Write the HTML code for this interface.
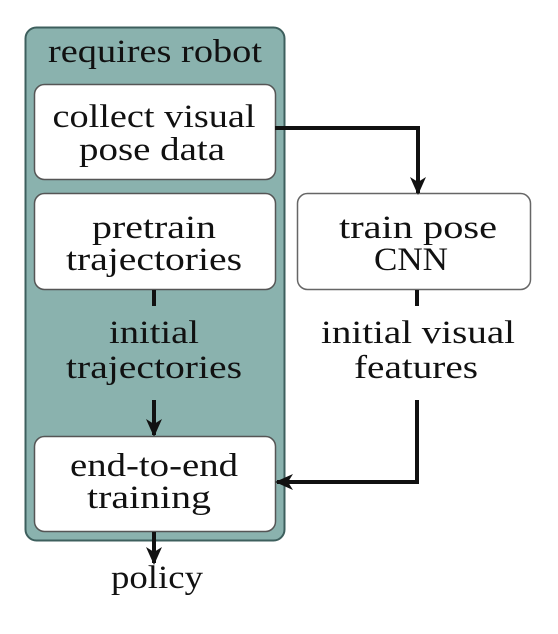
<!DOCTYPE html>
<html><head><meta charset="utf-8"><style>
html,body{margin:0;padding:0;background:#fff;}
svg{display:block;}
text{font-family:"Liberation Serif",serif;font-size:33px;fill:#111;text-anchor:middle;}
</style></head><body>
<svg width="558" height="634" viewBox="0 0 558 634" xmlns="http://www.w3.org/2000/svg">
<defs>
<marker id="ah" markerWidth="20" markerHeight="16" refX="16" refY="8" orient="auto" markerUnits="userSpaceOnUse">
<path d="M0,0 L18,8 L0,16 L5,8 Z" fill="#111"/>
</marker>
</defs>
<rect x="25.5" y="27.5" width="259" height="513" rx="11" fill="#8ab2ae" stroke="#3d5f5d" stroke-width="2"/>
<text x="155" y="62" textLength="214" lengthAdjust="spacingAndGlyphs">requires robot</text>

<rect x="34.5" y="84.5" width="241" height="95" rx="10" fill="#fff" stroke="#555" stroke-width="1.5"/>
<text x="154" y="127" textLength="203" lengthAdjust="spacingAndGlyphs">collect visual</text>
<text x="152" y="160" textLength="146" lengthAdjust="spacingAndGlyphs">pose data</text>

<rect x="34.5" y="193.5" width="241" height="96" rx="10" fill="#fff" stroke="#555" stroke-width="1.5"/>
<text x="154" y="238" textLength="124" lengthAdjust="spacingAndGlyphs">pretrain</text>
<text x="154" y="270" textLength="176" lengthAdjust="spacingAndGlyphs">trajectories</text>

<rect x="297.5" y="193.5" width="233" height="96" rx="10" fill="#fff" stroke="#666" stroke-width="1.5"/>
<text x="418" y="238" textLength="158" lengthAdjust="spacingAndGlyphs">train pose</text>
<text x="411" y="270" textLength="74" lengthAdjust="spacingAndGlyphs">CNN</text>

<line x1="154" y1="290" x2="154" y2="306" stroke="#111" stroke-width="4"/>
<text x="154" y="343" textLength="90" lengthAdjust="spacingAndGlyphs">initial</text>
<text x="154" y="378" textLength="176" lengthAdjust="spacingAndGlyphs">trajectories</text>
<line x1="154" y1="400" x2="154" y2="435" stroke="#111" stroke-width="4" marker-end="url(#ah)"/>

<line x1="417" y1="290" x2="417" y2="306" stroke="#111" stroke-width="4"/>
<text x="418" y="343" textLength="194" lengthAdjust="spacingAndGlyphs">initial visual</text>
<text x="416" y="378" textLength="124" lengthAdjust="spacingAndGlyphs">features</text>

<rect x="34.5" y="436.5" width="241" height="95" rx="10" fill="#fff" stroke="#555" stroke-width="1.5"/>
<text x="154" y="476" textLength="168" lengthAdjust="spacingAndGlyphs">end-to-end</text>
<text x="149" y="508" textLength="124" lengthAdjust="spacingAndGlyphs">training</text>

<polyline points="275,128 418,128 418,193" fill="none" stroke="#111" stroke-width="4" marker-end="url(#ah)"/>
<polyline points="417,400 417,482 277,482" fill="none" stroke="#111" stroke-width="4" marker-end="url(#ah)"/>
<line x1="154" y1="532" x2="154" y2="563" stroke="#111" stroke-width="4" marker-end="url(#ah)"/>
<text x="157" y="588" textLength="92" lengthAdjust="spacingAndGlyphs">policy</text>
</svg>
</body></html>
